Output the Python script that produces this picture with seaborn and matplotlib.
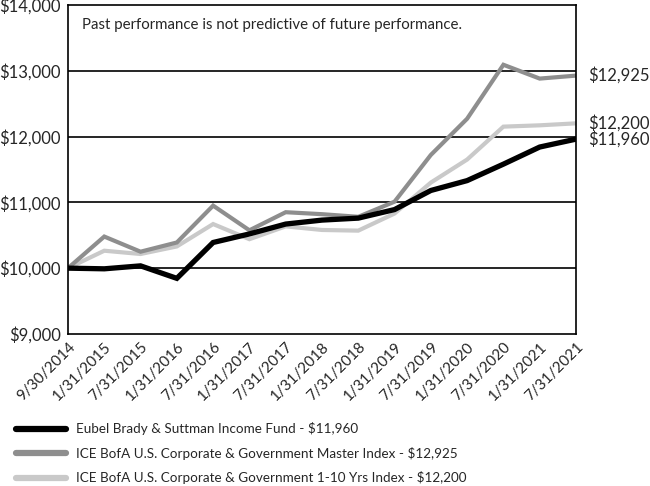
import numpy as np
import pandas as pd
import matplotlib
matplotlib.use("Agg")
import matplotlib.pyplot as plt
import seaborn as sns

# Data
dates = ["9/30/2014", "1/31/2015", "7/31/2015", "1/31/2016", "7/31/2016",
         "1/31/2017", "7/31/2017", "1/31/2018", "7/31/2018", "1/31/2019",
         "7/31/2019", "1/31/2020", "7/31/2020", "1/31/2021", "7/31/2021"]

fund = [10000, 9990, 10035, 9845, 10390, 10520, 10670, 10730, 10760, 10890,
        11180, 11330, 11580, 11840, 11960]
master = [10000, 10480, 10250, 10390, 10950, 10575, 10850, 10820, 10780, 11010,
          11720, 12270, 13090, 12880, 12925]
short_idx = [10000, 10265, 10215, 10330, 10670, 10440, 10635, 10580, 10570, 10830,
             11300, 11650, 12150, 12170, 12200]

series_names = ["Eubel Brady & Suttman Income Fund - $11,960",
                "ICE BofA U.S. Corporate & Government Master Index - $12,925",
                "ICE BofA U.S. Corporate & Government 1-10 Yrs Index - $12,200"]
end_labels = ["$11,960", "$12,925", "$12,200"]
colors = ["#000000", "#8e8e8e", "#c9c9c9"]

df = pd.concat([
    pd.DataFrame({"pos": np.arange(len(dates)), "value": vals, "series": name})
    for name, vals in zip(series_names, [fund, master, short_idx])
])

sns.set_style("white")
plt.rcParams["font.family"] = ["Lato", "DejaVu Sans"]

fig = plt.figure(figsize=(6.5, 4.86), dpi=100)
ax = fig.add_axes([0.1046, 0.3128, 0.7815, 0.6772])

# draw lighter lines first so the fund sits on top
for name, col, lw in reversed(list(zip(series_names, colors, [3.8, 3.0, 3.0]))):
    sns.lineplot(data=df[df["series"] == name], x="pos", y="value", color=col,
                 linewidth=lw, ax=ax, legend=False, solid_joinstyle="miter")

ax.set_xlim(0, len(dates) - 1)
ax.set_ylim(9000, 14000)
ax.set_yticks(np.arange(9000, 14001, 1000))
ax.set_yticklabels([f"${v:,.0f}" for v in np.arange(9000, 14001, 1000)], fontsize=12)
ax.set_xticks(np.arange(len(dates)))
ax.set_xticklabels(dates, rotation=45, ha="right", rotation_mode="anchor", fontsize=11)
ax.tick_params(axis="x", direction="in", length=7, width=1.2, color="black", pad=4)
ax.tick_params(axis="y", length=0, pad=5)
ax.set_xlabel("")
ax.set_ylabel("")

for v in range(10000, 14000, 1000):
    ax.axhline(v, color="black", linewidth=1.2, zorder=0)

for s in ax.spines.values():
    s.set_color("black")
    s.set_linewidth(1.2)

ax.text(0.028, 0.94, "Past performance is not predictive of future performance.",
        transform=ax.transAxes, fontsize=10.8, va="center", ha="left")

# value labels at the right end
last = len(dates) - 1
for val, lab in zip([fund[-1], master[-1], short_idx[-1]], end_labels):
    ax.annotate(lab, xy=(last, val), xytext=(9, 0), textcoords="offset points",
                va="center", ha="left", fontsize=12, annotation_clip=False)

handles = [plt.Line2D([], [], color=c, linewidth=4.5) for c in colors]
fig.legend(handles, series_names, loc="upper left", bbox_to_anchor=(0.017, 0.142),
           frameon=False, fontsize=9.7, handlelength=3.7, handletextpad=0.75,
           labelspacing=0.85, borderaxespad=0)

fig.savefig("out.png", dpi=100)
